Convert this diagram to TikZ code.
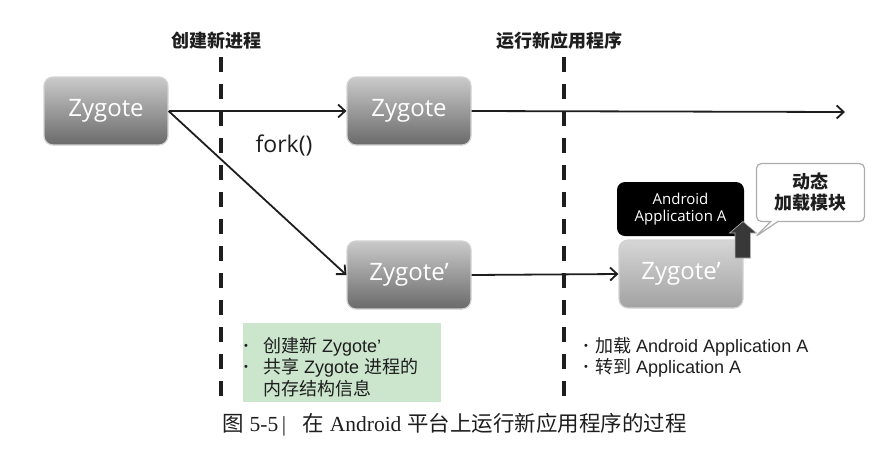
\documentclass[tikz,border=0pt]{standalone}
\usepackage{fontspec}
\setmainfont{Liberation Sans}
\newfontfamily\cjk{Noto Sans CJK SC}
\newfontfamily\osans{Open Sans}
\newfontfamily\tserif{Liberation Serif}
\usetikzlibrary{arrows.meta,shapes.callouts}
\definecolor{ztop}{HTML}{CACACA}
\definecolor{zbot}{HTML}{6A6A6A}
\definecolor{ltop}{HTML}{D6D6D6}
\definecolor{lbot}{HTML}{A2A2A2}
\definecolor{gfill}{HTML}{CBE6CC}
\definecolor{ink}{HTML}{1E1E1E}
\definecolor{blk}{HTML}{383838}
\begin{document}
\begin{tikzpicture}[x=1pt,y=-1pt,
  zyg/.style={rounded corners=9pt, draw=gray!35, line width=1.2pt,
    top color=ztop, bottom color=zbot, minimum width=124pt, minimum height=68pt,
    text=white, font=\osans\fontsize{24}{26}\selectfont, inner sep=0pt},
  zygl/.style={zyg, top color=ltop, bottom color=lbot},
  divider/.style={line width=4.5pt, ink, dash pattern=on 15pt off 12pt},
  flow/.style={line width=1.8pt, ink, -{Straight Barb[length=7pt,width=13pt,line width=1.8pt]}},
  toplabel/.style={font=\cjk\bfseries\fontsize{18}{20}\selectfont, text=ink},
  bul/.style={font=\fontsize{18}{21}\selectfont, text=ink, inner sep=0pt, anchor=west},
  dotb/.style={font=\fontsize{11}{11}\selectfont, text=ink, inner sep=0pt}
]
\useasboundingbox (0,0) rectangle (890,448);

% dividers
\coordinate (d1t) at (221,57);
\coordinate (d1b) at (221,402);
\coordinate (d2t) at (564,57);
\coordinate (d2b) at (564,402);
\draw[divider] (d1t) -- (d1b);
\draw[divider] (d2t) -- (d2b);
\node[toplabel] (lab1) at (216,41) {创建新进程};
\node[toplabel] (lab2) at (559,41) {运行新应用程序};

% green note
\node[fill=gfill, minimum width=198pt, minimum height=79pt, inner sep=0pt] (gbox) at (342,362.5) {};

% zygote boxes
\node[zyg] (z1) at (106,111) {Zygote};
\node[zyg] (z2) at (409,111) {Zygote};
\node[zyg] (z3) at (409,275) {Zygote’};
\node[zygl] (z4) at (681,274) {Zygote’};

% app box
\node[rounded corners=8pt, fill=black, minimum width=127pt, minimum height=54pt, inner sep=0pt,
  text=white, align=center, font=\osans\fontsize{15}{17}\selectfont] (app) at (680.5,209) {Android\\Application A};

% block arrow
\fill[blk, draw=gray!60, line width=0.6pt] (735,258) -- (735,233) -- (729.5,233) -- (743,221.5) -- (756.5,233) -- (750.5,233) -- (750.5,258) -- cycle;

% callout
\coordinate (tip) at (755,237);
\node[rectangle callout, callout absolute pointer=(tip), rounded corners=5pt, draw=gray!65, line width=1.2pt, fill=white,
  minimum width=108pt, minimum height=58pt, inner sep=0pt, align=center,
  font=\cjk\bfseries\fontsize{18}{21}\selectfont, text=ink] (note) at (810.5,192.5) {动态\\加载模块};

% end coordinate
\coordinate (end) at (845,112);

% arrows
\draw[flow] (z1.east) -- (z2.west);
\draw[flow] (z1.east) -- (z3.west);
\draw[flow] (z2.east) -- (end);
\draw[flow] (z3.east) -- (z4.west);

\node[font=\osans\fontsize{23}{26}\selectfont, text=ink] (fork) at (284,146) {fork()};

% green note text
\node[dotb] (b1) at (246,347) {•};
\node[bul] (t1) at (263,347) {{\cjk 创建新} Zygote'};
\node[dotb] (b2) at (246,368) {•};
\node[bul] (t2) at (263,368) {{\cjk 共享} Zygote {\cjk 进程的}};
\node[bul] (t3) at (263,389) {\cjk 内存结构信息};

% right note text
\node[dotb] (b3) at (586,347) {•};
\node[bul] (t4) at (595,347) {{\cjk 加载} Android Application A};
\node[dotb] (b4) at (586,368) {•};
\node[bul] (t5) at (595,368) {{\cjk 转到} Application A};

% caption
\node[anchor=west, inner sep=0pt, text=ink, font=\fontsize{21.5}{24}\selectfont] (cap) at (222,425)
  {{\cjk 图} {\tserif 5-5\,|\ \ \ }{\cjk 在} {\tserif Android} {\cjk 平台上运行新应用程序的过程}};
\end{tikzpicture}
\end{document}
